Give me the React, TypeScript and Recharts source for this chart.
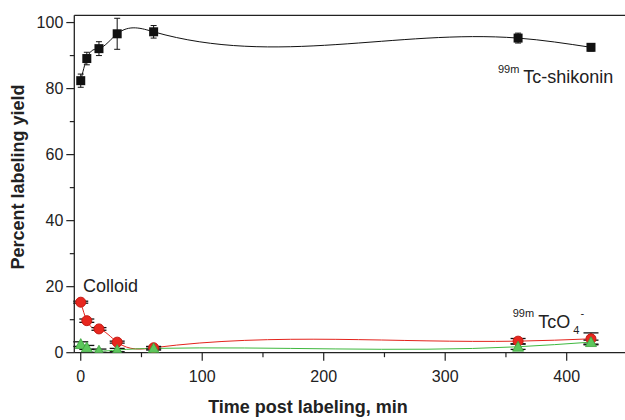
import React from 'react';
import { LineChart, Line, XAxis, YAxis, ErrorBar, Customized } from 'recharts';

const times = [0, 5, 15, 30, 60, 360, 420];
const shikonin = [82.4, 89.1, 92.1, 96.6, 97.2, 95.3, 92.5];
const shikoninErr = [2.0, 1.9, 2.1, 4.7, 1.9, 1.5, 1.1];
const colloid = [15.3, 9.7, 7.2, 3.2, 1.5, 3.5, 4.2];
const colloidErr = [0.3, 0.5, 0.4, 0.3, 0.4, 0.8, 1.8];
const pertech = [2.6, 1.6, 0.6, 0.8, 1.3, 1.8, 3.2];
const pertechErr = [0.7, 0.6, 0.5, 0.5, 0.5, 0.8, 0.6];

const xTicks = [0, 50, 100, 150, 200, 250, 300, 350, 400];
const yTicks = [0, 10, 20, 30, 40, 50, 60, 70, 80, 90, 100];

const data = times.map((t, i) => ({
  t,
  shikonin: shikonin[i],
  shikoninErr: shikoninErr[i],
  colloid: colloid[i],
  colloidErr: colloidErr[i],
  pertech: pertech[i],
  pertechErr: pertechErr[i],
}));

const FONT = 'Liberation Sans, Arial, Helvetica, sans-serif';

// Natural cubic spline in x (non-parametric), like Origin's "Spline" connection
function splineX(context: any) {
  let xs: number[] = [];
  let ys: number[] = [];
  return {
    areaStart() {},
    areaEnd() {},
    lineStart() {
      xs = [];
      ys = [];
    },
    point(x: number, y: number) {
      xs.push(+x);
      ys.push(+y);
    },
    lineEnd() {
      const n = xs.length;
      if (n === 0) return;
      context.moveTo(xs[0], ys[0]);
      if (n === 1) return;
      if (n === 2) {
        context.lineTo(xs[1], ys[1]);
        return;
      }
      const h: number[] = [];
      for (let i = 0; i < n - 1; i++) h.push(xs[i + 1] - xs[i]);
      const a: number[] = [];
      const b: number[] = [];
      const c: number[] = [];
      const d: number[] = [];
      for (let i = 1; i < n - 1; i++) {
        a.push(h[i - 1]);
        b.push(2 * (h[i - 1] + h[i]));
        c.push(h[i]);
        d.push(6 * ((ys[i + 1] - ys[i]) / h[i] - (ys[i] - ys[i - 1]) / h[i - 1]));
      }
      const m = n - 2;
      for (let i = 1; i < m; i++) {
        const w = a[i] / b[i - 1];
        b[i] -= w * c[i - 1];
        d[i] -= w * d[i - 1];
      }
      const M = new Array(n).fill(0);
      for (let i = m - 1; i >= 0; i--) {
        M[i + 1] = (d[i] - c[i] * M[i + 2]) / b[i];
      }
      for (let i = 0; i < n - 1; i++) {
        const hh = h[i];
        const s = (ys[i + 1] - ys[i]) / hh;
        const d0 = s - (hh * (2 * M[i] + M[i + 1])) / 6;
        const d1 = s + (hh * (M[i] + 2 * M[i + 1])) / 6;
        context.bezierCurveTo(
          xs[i] + hh / 3,
          ys[i] + (d0 * hh) / 3,
          xs[i + 1] - hh / 3,
          ys[i + 1] - (d1 * hh) / 3,
          xs[i + 1],
          ys[i + 1]
        );
      }
    },
  };
}

const SquareDot = (p: any) => {
  if (p.cx == null || p.cy == null) return <g key={p.index} />;
  return <rect key={p.index} x={p.cx - 4.5} y={p.cy - 4.5} width={9} height={9} fill="#111" />;
};
const CircleDot = (p: any) => {
  if (p.cx == null || p.cy == null) return <g key={p.index} />;
  return <circle key={p.index} cx={p.cx} cy={p.cy} r={5} fill="#e8271f" stroke="#c41a14" strokeWidth={1} />;
};
const TriDot = (p: any) => {
  if (p.cx == null || p.cy == null) return <g key={p.index} />;
  const s = 5.5;
  const pts = `${p.cx},${p.cy - s} ${p.cx + s},${p.cy + s * 0.8} ${p.cx - s},${p.cy + s * 0.8}`;
  return <polygon key={p.index} points={pts} fill="#5cc65c" stroke="#3da43d" strokeWidth={0.8} />;
};

const XTick = (p: any) => {
  const v = p.payload.value;
  const major = v % 100 === 0;
  return (
    <g>
      <line x1={p.x} y1={p.y} x2={p.x} y2={p.y + (major ? 8 : 4.5)} stroke="#222" strokeWidth={1.2} />
      {major && (
        <text x={p.x} y={p.y + 29.3} textAnchor="middle" fontFamily={FONT} fontSize={16} fill="#222">
          {v}
        </text>
      )}
    </g>
  );
};

const YTick = (p: any) => {
  const v = p.payload.value;
  const major = v % 20 === 0;
  return (
    <g>
      <line x1={p.x - (major ? 8 : 4.5)} y1={p.y} x2={p.x} y2={p.y} stroke="#222" strokeWidth={1.2} />
      {major && (
        <text x={p.x - 11} y={p.y + 5.7} textAnchor="end" fontFamily={FONT} fontSize={16} fill="#222">
          {v}
        </text>
      )}
    </g>
  );
};

const Annotations = () => (
  <g fontFamily={FONT} fill="#222">
    <text x={83} y={292.3} fontSize={18}>Colloid</text>
    <text x={498} y={73.3} fontSize={11}>99m</text>
    <text x={523.3} y={83.3} fontSize={18}>Tc-shikonin</text>
    <text x={512.7} y={316.7} fontSize={11}>99m</text>
    <text x={538.3} y={328.3} fontSize={18}>TcO</text>
    <text x={573.3} y={334} fontSize={11}>4</text>
    <text x={580.5} y={317} fontSize={11}>-</text>
    <text x={308} y={413} fontSize={18} fontWeight="bold" textAnchor="middle">
      Time post labeling, min
    </text>
    <text
      x={23.5}
      y={177}
      fontSize={18}
      fontWeight="bold"
      textAnchor="middle"
      transform="rotate(-90 23.5 177)"
    >
      Percent labeling yield
    </text>
  </g>
);

export default function App() {
  return (
    <div style={{ position: 'fixed', left: 0, top: 0, width: 625, height: 420, background: '#fff' }}>
      <LineChart
        width={625}
        height={420}
        data={data}
        margin={{ top: 14.3, right: 0, bottom: 66.3, left: 73.3 }}
      >
        <XAxis
          dataKey="t"
          type="number"
          domain={[-5.3, 448]}
          ticks={xTicks}
          allowDataOverflow
          height={1}
          tickSize={0}
          tickMargin={0}
          tickLine={false}
          tick={<XTick />}
          axisLine={{ stroke: '#222', strokeWidth: 1.3 }}
          interval={0}
        />
        <XAxis
          xAxisId="top"
          dataKey="t"
          type="number"
          orientation="top"
          domain={[-5.3, 448]}
          allowDataOverflow
          height={1}
          tick={false}
          tickLine={false}
          axisLine={{ stroke: '#222', strokeWidth: 1.3 }}
        />
        <YAxis
          type="number"
          domain={[0, 102.2]}
          ticks={yTicks}
          allowDataOverflow
          width={1}
          tickSize={0}
          tickMargin={0}
          tickLine={false}
          tick={<YTick />}
          axisLine={{ stroke: '#222', strokeWidth: 1.3 }}
          interval={0}
        />
        <Line
          dataKey="shikonin"
          type={splineX as any}
          stroke="#111"
          strokeWidth={1}
          dot={SquareDot}
          activeDot={false}
          isAnimationActive={false}
        >
          <ErrorBar dataKey="shikoninErr" width={3} stroke="#111" strokeWidth={1} direction="y" />
        </Line>
        <Line
          dataKey="colloid"
          type={splineX as any}
          stroke="#e3231c"
          strokeWidth={1}
          dot={CircleDot}
          activeDot={false}
          isAnimationActive={false}
        />
        <Line
          dataKey="pertech"
          type={splineX as any}
          stroke="#3fb83f"
          strokeWidth={1}
          dot={TriDot}
          activeDot={false}
          isAnimationActive={false}
        />
        <Line dataKey="colloid" stroke="none" dot={false} activeDot={false} isAnimationActive={false}>
          <ErrorBar dataKey="colloidErr" width={7.5} stroke="#111" strokeWidth={1.3} direction="y" />
        </Line>
        <Line dataKey="pertech" stroke="none" dot={false} activeDot={false} isAnimationActive={false}>
          <ErrorBar dataKey="pertechErr" width={7.5} stroke="#111" strokeWidth={1.3} direction="y" />
        </Line>
        <Customized component={Annotations} />
      </LineChart>
    </div>
  );
}
